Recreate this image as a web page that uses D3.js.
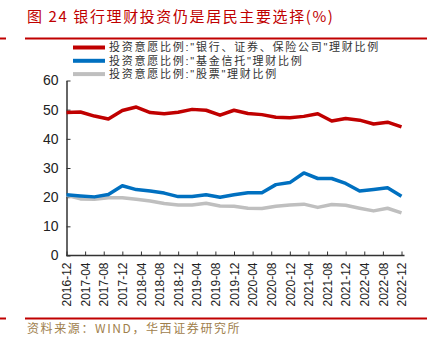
<!DOCTYPE html>
<html>
<head>
<meta charset="utf-8">
<script src="https://cdn.jsdelivr.net/npm/d3@7"></script>
<style>
  body { margin: 0; background: #fff; }
  text { font-family: "Liberation Sans", Arial, sans-serif; }
  .cjk { font-family: "Noto Sans CJK SC", sans-serif; }
  .legtext { font-family: "Liberation Sans", "Noto Sans CJK SC", sans-serif; }
</style>
</head>
<body>
<div id="container"></div>
<script>
let w = 437;
let h = 350;

// quarterly survey points
let quarters = ["2016-12","2017-03","2017-06","2017-09","2017-12","2018-03","2018-06","2018-09",
  "2018-12","2019-03","2019-06","2019-09","2019-12","2020-03","2020-06","2020-09",
  "2020-12","2021-03","2021-06","2021-09","2021-12","2022-03","2022-06","2022-09","2022-12"];

let bankWM = [49.0,49.2,47.8,46.8,49.7,50.9,49.0,48.6,49.1,50.1,49.8,48.1,49.8,48.7,48.3,47.4,
  47.2,47.7,48.6,46.1,47.0,46.4,45.1,45.7,44.1];
let fundTrust = [20.8,20.4,20.1,20.9,23.9,22.6,22.1,21.4,20.2,20.2,20.8,20.0,20.8,21.5,21.5,24.3,
  25.0,28.3,26.4,26.4,24.7,22.1,22.6,23.2,20.3];
let stocks = [20.6,19.4,19.3,19.8,19.8,19.3,18.7,17.8,17.3,17.3,17.9,17.0,16.9,16.2,16.1,16.9,
  17.3,17.6,16.5,17.5,17.2,16.2,15.3,16.2,14.6];

let seriesNames = ['投资意愿比例:"银行、证券、保险公司"理财比例', '投资意愿比例:"基金信托"理财比例', '投资意愿比例:"股票"理财比例'];
let seriesColors = ["#c00000", "#0070c0", "#bfbfbf"];

let xTickLabels = ["2016-12","2017-04","2017-08","2017-12","2018-04","2018-08","2018-12","2019-04",
  "2019-08","2019-12","2020-04","2020-08","2020-12","2021-04","2021-08","2021-12","2022-04","2022-08","2022-12"];
let yTicks = [0, 10, 20, 30, 40, 50, 60];

let titleText = "图 24  银行理财投资仍是居民主要选择(%)";
let sourceText = "资料来源：WIND，华西证券研究所";

// month index from 2016-12
function monthIndex(s){
  let parts = s.split("-");
  return (+parts[0] - 2016) * 12 + (+parts[1]) - 12;
}

let viz = d3.select("#container")
  .append("svg")
    .attr("width", w)
    .attr("height", h)
    .style("background-color", "#fff");

// title + rules
viz.append("text").attr("class", "cjk")
  .attr("x", 27).attr("y", 22)
  .attr("fill", "#c00000")
  .style("font-size", "15px")
  .style("letter-spacing", "1.6px")
  .text(titleText);

[38.5, 318.5].forEach(function(yy){
  viz.append("line").attr("x1", 0).attr("x2", 6).attr("y1", yy).attr("y2", yy)
    .attr("stroke", "#c00000").attr("stroke-width", 2);
  viz.append("line").attr("x1", 25).attr("x2", 427).attr("y1", yy).attr("y2", yy)
    .attr("stroke", "#c00000").attr("stroke-width", 2);
});

viz.append("text").attr("class", "cjk")
  .attr("x", 27).attr("y", 333)
  .attr("fill", "#a0804c")
  .style("font-size", "12px")
  .style("letter-spacing", "1.6px")
  .text(sourceText);

// scales
let xScale = d3.scaleLinear().domain([0, 72]).range([66.5, 401.5]);
let yScale = d3.scaleLinear().domain([0, 60]).range([255.5, 80.5]);

// y axis
let yAxis = d3.axisLeft(yScale).tickValues(yTicks).tickSizeInner(-4).tickSizeOuter(0).tickPadding(8);
let yAxisGroup = viz.append("g").attr("class", "yaxis")
  .attr("transform", "translate(" + xScale(0) + ", 0)")
  .call(yAxis);
yAxisGroup.selectAll("text").style("font-size", "14px").attr("fill", "#222");
yAxisGroup.selectAll("line").attr("stroke", "#333");
yAxisGroup.select(".domain").attr("stroke", "#333").attr("stroke-width", 1.5);

// x axis
let xAxis = d3.axisBottom(xScale)
  .tickValues(xTickLabels.map(monthIndex))
  .tickFormat(function(d, i){ return xTickLabels[i]; })
  .tickSizeInner(-4).tickSizeOuter(0);
let xAxisGroup = viz.append("g").attr("class", "xaxis")
  .attr("transform", "translate(0, " + yScale(0) + ")")
  .call(xAxis);
xAxisGroup.select(".domain").remove();
xAxisGroup.append("line")
  .attr("x1", xScale(0)).attr("x2", xScale(72) + 3)
  .attr("stroke", "#333").attr("stroke-width", 1.5);
xAxisGroup.selectAll("line").attr("stroke", "#333");
xAxisGroup.selectAll(".tick text")
  .attr("transform", "rotate(-90)")
  .attr("text-anchor", "end")
  .attr("x", -7).attr("y", 0).attr("dy", "0.35em")
  .style("font-size", "12px")
  .attr("fill", "#222");

// lines
let allSeries = [bankWM, fundTrust, stocks];
let lineGen = d3.line()
  .x(function(d, i){ return xScale(monthIndex(quarters[i])); })
  .y(function(d){ return yScale(d); });

// draw bottom-up so red sits on top
for (let k = allSeries.length - 1; k >= 0; k--) {
  viz.append("path")
    .datum(allSeries[k])
    .attr("d", lineGen)
    .attr("fill", "none")
    .attr("stroke", seriesColors[k])
    .attr("stroke-width", 3.5)
    .attr("stroke-linejoin", "round");
}

// legend
let legend = viz.append("g").attr("class", "legend");
seriesNames.forEach(function(name, i){
  let yy = 47.5 + i * 13.3;
  legend.append("line")
    .attr("x1", 73).attr("x2", 105).attr("y1", yy).attr("y2", yy)
    .attr("stroke", seriesColors[i]).attr("stroke-width", 4);
  legend.append("text").attr("class", "legtext")
    .attr("x", 109).attr("y", yy).attr("dy", "0.35em")
    .style("font-size", "11px")
    .style("letter-spacing", "1.75px")
    .attr("fill", "#333")
    .text(name);
});
</script>
</body>
</html>
